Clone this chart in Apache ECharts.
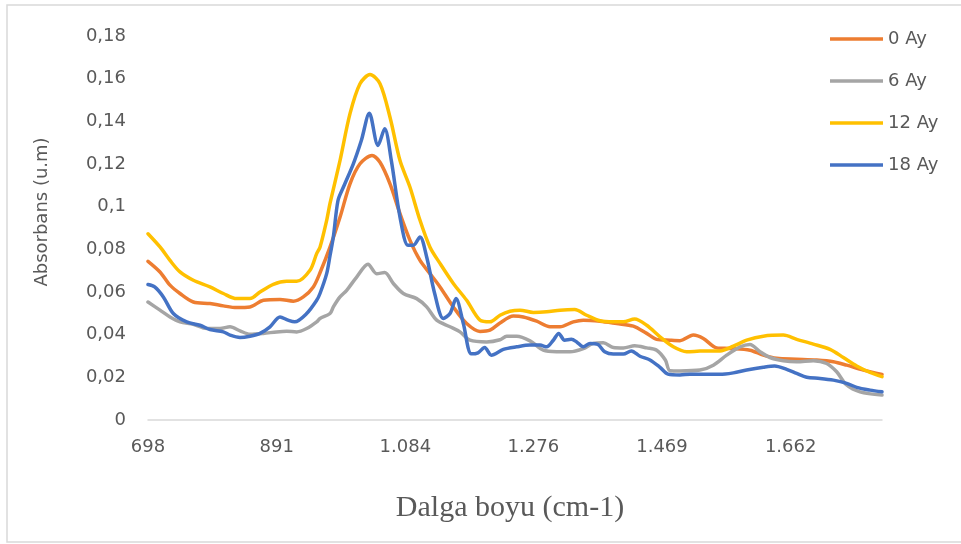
<!DOCTYPE html>
<html>
<head>
<meta charset="utf-8">
<script src="https://cdn.jsdelivr.net/npm/echarts@6/dist/echarts.min.js"></script>
<style>
  html, body { margin: 0; padding: 0; background: #ffffff; }
  #chart { width: 961px; height: 544px; }
</style>
</head>
<body>
<div id="chart"></div>
<script>
// FTIR absorbance spectra over storage time (wavenumber in cm-1)
const seriesNames = ['0 Ay', '6 Ay', '12 Ay', '18 Ay'];
const seriesColors = ['#ED7D31', '#A5A5A5', '#FFC000', '#4472C4'];

const xTickValues = [698, 891, 1084, 1276, 1469, 1662];

// 0 Ay
const wn0 = [698,716,731,746,766,791,811,831,851,871,896,916,931,946,956,971,986,1001,1016,1034,1046,1061,1076,1091,1106,1121,1136,1156,1176,1196,1211,1226,1246,1261,1281,1301,1316,1336,1351,1376,1401,1426,1446,1461,1481,1496,1516,1531,1551,1571,1601,1621,1641,1671,1701,1726,1746,1771,1799];
const abs0 = [0.0744,0.0694,0.0632,0.0593,0.0553,0.0546,0.0535,0.0527,0.0530,0.0561,0.0565,0.0557,0.0577,0.0624,0.0690,0.0810,0.0950,0.1107,0.1201,0.1240,0.1208,0.1107,0.0967,0.0842,0.0748,0.0686,0.0624,0.0530,0.0452,0.0415,0.0421,0.0455,0.0487,0.0483,0.0463,0.0437,0.0437,0.0460,0.0468,0.0463,0.0452,0.0440,0.0406,0.0378,0.0374,0.0372,0.0398,0.0382,0.0338,0.0335,0.0327,0.0304,0.0289,0.0285,0.0281,0.0273,0.0257,0.0234,0.0214];

// 6 Ay
const wn1 = [698,716,731,746,766,786,806,821,836,851,871,891,906,921,936,951,956,971,976,986,996,1011,1028,1041,1053,1066,1081,1101,1116,1131,1151,1166,1181,1206,1226,1236,1251,1271,1291,1311,1331,1351,1366,1381,1396,1411,1428,1446,1461,1474,1481,1496,1526,1546,1566,1586,1601,1616,1631,1651,1671,1696,1716,1731,1746,1766,1799];
const abs1 = [0.0553,0.0515,0.0483,0.0460,0.0449,0.0429,0.0429,0.0437,0.0418,0.0402,0.0406,0.0413,0.0416,0.0413,0.0429,0.0460,0.0476,0.0499,0.0530,0.0577,0.0608,0.0670,0.0730,0.0686,0.0691,0.0640,0.0593,0.0569,0.0530,0.0468,0.0437,0.0413,0.0374,0.0366,0.0376,0.0393,0.0393,0.0371,0.0327,0.0320,0.0320,0.0335,0.0359,0.0362,0.0340,0.0338,0.0348,0.0338,0.0327,0.0281,0.0231,0.0230,0.0234,0.0257,0.0304,0.0343,0.0354,0.0320,0.0293,0.0278,0.0273,0.0278,0.0265,0.0226,0.0164,0.0132,0.0117];

// 12 Ay
const wn2 = [698,716,731,746,766,791,811,831,851,866,886,906,921,941,951,956,966,971,986,1001,1016,1031,1046,1061,1076,1091,1106,1121,1136,1156,1176,1196,1211,1226,1241,1256,1276,1296,1316,1338,1356,1376,1396,1411,1428,1446,1466,1486,1506,1526,1556,1576,1596,1621,1651,1671,1696,1721,1741,1761,1781,1799];
const abs2 = [0.0873,0.0811,0.0748,0.0694,0.0655,0.0624,0.0593,0.0569,0.0569,0.0600,0.0636,0.0650,0.0650,0.0702,0.0780,0.0810,0.0936,0.1015,0.1216,0.1436,0.1576,0.1619,0.1576,0.1419,0.1216,0.1091,0.0936,0.0810,0.0734,0.0640,0.0561,0.0468,0.0460,0.0491,0.0510,0.0515,0.0504,0.0507,0.0515,0.0518,0.0491,0.0465,0.0460,0.0460,0.0473,0.0444,0.0390,0.0343,0.0320,0.0323,0.0324,0.0346,0.0374,0.0393,0.0398,0.0378,0.0356,0.0331,0.0293,0.0253,0.0223,0.0203];

// 18 Ay
const wn3 = [698,708,721,736,756,776,791,811,821,836,851,866,881,896,908,918,936,951,956,966,971,976,983,991,1006,1018,1030,1043,1053,1063,1076,1088,1096,1106,1116,1128,1141,1151,1160,1171,1183,1193,1203,1213,1231,1251,1271,1286,1296,1306,1314,1323,1333,1341,1351,1361,1373,1383,1396,1411,1423,1436,1451,1466,1478,1496,1511,1526,1556,1576,1596,1621,1638,1656,1671,1686,1706,1726,1746,1761,1781,1799];
const abs3 = [0.0635,0.0624,0.0577,0.0499,0.0460,0.0444,0.0424,0.0413,0.0398,0.0387,0.0393,0.0406,0.0437,0.0483,0.0468,0.0460,0.0499,0.0561,0.0593,0.0686,0.0770,0.0858,0.1029,0.1091,0.1201,0.1310,0.1438,0.1287,0.1365,0.1216,0.0951,0.0819,0.0819,0.0858,0.0764,0.0593,0.0476,0.0499,0.0569,0.0452,0.0310,0.0315,0.0340,0.0304,0.0331,0.0343,0.0351,0.0351,0.0343,0.0374,0.0406,0.0374,0.0378,0.0366,0.0343,0.0359,0.0354,0.0320,0.0309,0.0309,0.0324,0.0299,0.0281,0.0247,0.0215,0.0211,0.0215,0.0215,0.0214,0.0221,0.0234,0.0247,0.0253,0.0237,0.0218,0.0200,0.0195,0.0187,0.0172,0.0153,0.0140,0.0132];

const wavenumbers = [wn0, wn1, wn2, wn3];
const absorbances = [abs0, abs1, abs2, abs3];

const textColor = '#595959';
const labelFont = 'DejaVu Sans';

function pairs(xs, ys) {
  const n = Math.min(xs.length, ys.length);
  const out = [];
  for (let i = 0; i < n; i++) out.push([xs[i], ys[i]]);
  return out;
}

function thousands(v) {
  if (v >= 1000) {
    return Math.floor(v / 1000) + '.' + String(v % 1000).padStart(3, '0');
  }
  return String(v);
}

const chart = echarts.init(document.getElementById('chart'), null, { renderer: 'canvas' });

chart.setOption({
  backgroundColor: '#ffffff',
  animation: false,
  grid: { left: 148, right: 79, top: 36, bottom: 124, containLabel: false },
  legend: {
    orient: 'vertical',
    left: 825,
    top: 24,
    icon: 'rect',
    itemWidth: 53,
    itemHeight: 3.5,
    itemGap: 22,
    textStyle: { color: textColor, fontSize: 18, fontFamily: labelFont, lineHeight: 20 },
    data: seriesNames
  },
  xAxis: {
    type: 'value',
    min: 698,
    max: 1799,
    axisLine: { show: true, lineStyle: { color: '#d9d9d9', width: 1.5 } },
    axisTick: { show: false, customValues: xTickValues },
    splitLine: { show: false },
    axisLabel: {
      customValues: xTickValues,
      formatter: thousands,
      color: textColor,
      fontSize: 18,
      fontFamily: labelFont,
      margin: 18
    }
  },
  yAxis: {
    type: 'value',
    min: 0,
    max: 0.18,
    interval: 0.02,
    axisLine: { show: false },
    axisTick: { show: false },
    splitLine: { show: false },
    axisLabel: {
      formatter: v => String(parseFloat(v.toFixed(2))).replace('.', ','),
      color: textColor,
      fontSize: 18,
      fontFamily: labelFont,
      margin: 22
    }
  },
  graphic: [
    {
      type: 'rect',
      shape: { x: 7, y: 5, width: 960, height: 537 },
      style: { fill: 'none', stroke: '#d9d9d9', lineWidth: 1.5 },
      silent: true,
      z: -10
    },
    {
      type: 'text',
      x: 42,
      y: 212,
      rotation: Math.PI / 2,
      style: {
        text: 'Absorbans (u.m)',
        fill: textColor,
        fontSize: 18,
        fontFamily: labelFont,
        align: 'center',
        verticalAlign: 'middle'
      }
    },
    {
      type: 'text',
      x: 510,
      y: 508,
      style: {
        text: 'Dalga boyu (cm-1)',
        fill: textColor,
        fontSize: 30,
        fontFamily: 'Liberation Serif',
        align: 'center',
        verticalAlign: 'middle'
      }
    }
  ],
  series: seriesNames.map((name, i) => ({
    name: name,
    type: 'line',
    data: pairs(wavenumbers[i], absorbances[i]),
    symbol: 'none',
    smooth: 0.3,
    color: seriesColors[i],
    itemStyle: { color: seriesColors[i] },
    lineStyle: { width: 3.5, color: seriesColors[i], cap: 'round', join: 'round' },
    z: 2 + i
  }))
});
</script>
</body>
</html>
